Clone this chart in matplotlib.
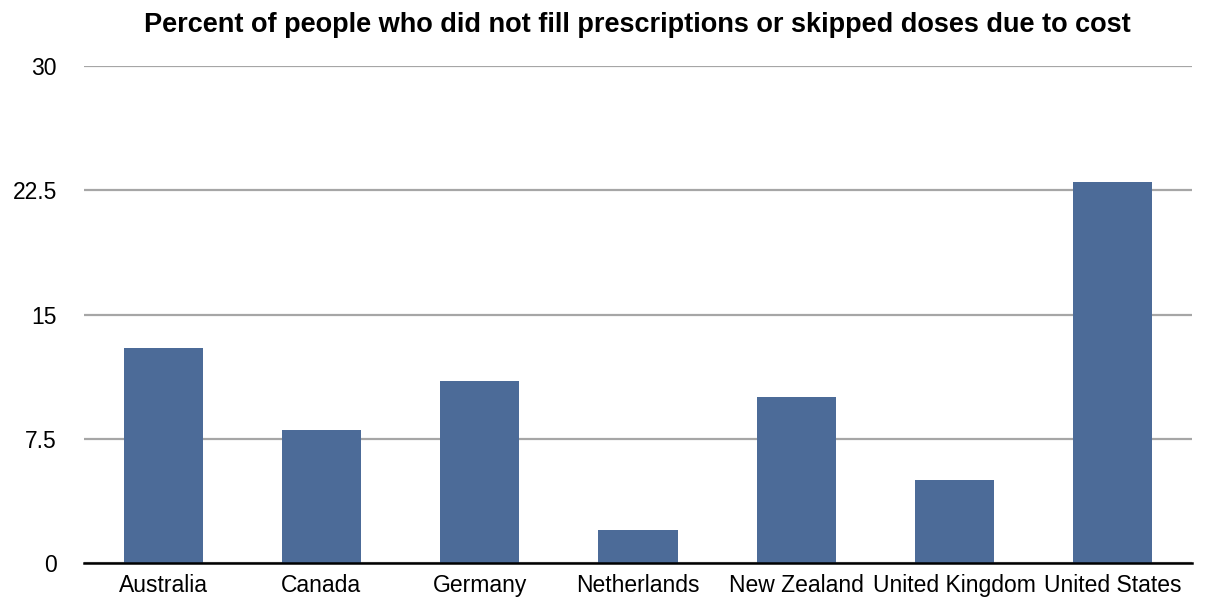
import matplotlib
matplotlib.use("Agg")
import matplotlib.pyplot as plt

countries = ["Australia", "Canada", "Germany", "Netherlands", "New Zealand", "United Kingdom", "United States"]
values = [13, 8, 11, 2, 10, 5, 23]
yticks = [0, 7.5, 15, 22.5, 30]
ytick_labels = ["0", "7.5", "15", "22.5", "30"]

plt.rcParams['font.family'] = ['Liberation Sans', 'DejaVu Sans']

fig = plt.figure(figsize=(12.14, 6.10), dpi=100)
ax = fig.add_axes([84/1214, 47/610, (1192-84)/1214, (563-66)/610])

x = list(range(len(countries)))
ax.bar(x, values, width=0.5, color="#4C6B98", zorder=3)
ax.set_xlim(-0.5, len(countries) - 0.5)
ax.set_ylim(0, 30)
ax.set_yticks(yticks)
ax.set_yticklabels(ytick_labels, fontsize=16.5)
ax.set_xticks(x)
ax.set_xticklabels(countries, fontsize=16.5)
ax.yaxis.grid(True, color="#a6a6a6", linewidth=1.6, zorder=0)
ax.set_axisbelow(True)
for s in ["top", "right", "left"]:
    ax.spines[s].set_visible(False)
ax.spines["bottom"].set_linewidth(1.8)
ax.spines["bottom"].set_color("black")
ax.spines["bottom"].set_zorder(4)
ax.tick_params(axis="both", length=0)
ax.tick_params(axis="x", pad=8)
ax.tick_params(axis="y", pad=19.5)
for lab in ax.get_yticklabels():
    lab.set_horizontalalignment("right")

fig.text(637.5/1214, 1 - 25/610, "Percent of people who did not fill prescriptions or skipped doses due to cost",
         ha="center", va="center", fontsize=19.5, fontweight="bold")

fig.savefig("out.png", dpi=100)
